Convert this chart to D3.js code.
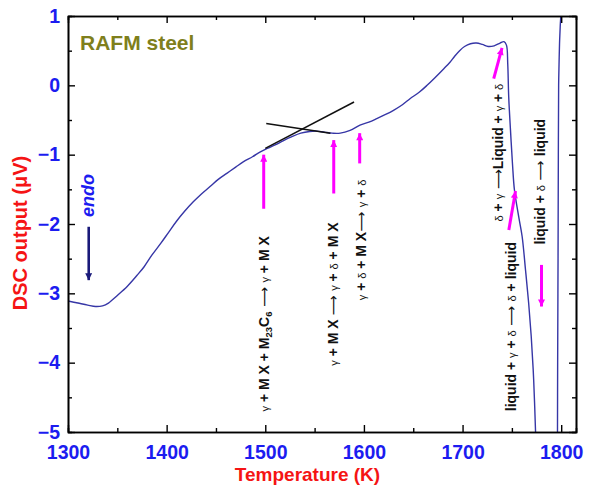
<!DOCTYPE html>
<html><head><meta charset="utf-8">
<script src="https://cdn.jsdelivr.net/npm/d3@7"></script>
<style>body{margin:0;background:#fff}svg{display:block}</style>
</head><body><svg id="c" width="592" height="487"></svg>
<script>
// ---- data ----
const curveT = [1300,1310,1320,1328,1335,1341,1350,1360,1370,1377,1385,1394,1402,1410,1418,1427,1435,1444,1452,1461,1470,1478,1487,1495,1502,1510,1518,1527,1536,1545,1552,1560,1568,1576,1586,1596,1605,1613,1622,1630,1639,1647,1656,1664,1672,1681,1687,1692,1697,1702,1708,1714,1720,1726,1732,1738,1742,1744.5,1745.8,1746.8,1748.6,1750.6,1752.6,1757,1760.4,1763.8,1767,1769.6,1771.6,1773,1774,1775];
const curveV = [-3.11,-3.14,-3.17,-3.19,-3.18,-3.14,-3.03,-2.90,-2.74,-2.62,-2.45,-2.28,-2.12,-1.96,-1.82,-1.68,-1.57,-1.46,-1.36,-1.27,-1.18,-1.10,-1.03,-0.96,-0.91,-0.86,-0.80,-0.74,-0.69,-0.665,-0.66,-0.675,-0.69,-0.69,-0.65,-0.575,-0.53,-0.48,-0.42,-0.36,-0.28,-0.19,-0.10,0.0,0.11,0.24,0.33,0.42,0.50,0.56,0.60,0.61,0.59,0.56,0.57,0.61,0.63,0.58,0.31,-0.17,-0.65,-1.13,-1.51,-1.90,-2.18,-2.66,-3.14,-3.62,-4.10,-4.58,-5.0,-5.3];
const returnT = [1796.2,1796.4,1796.8,1797.1,1797.4,1797.8,1798.3,1799.0,1799.6,1800.0];
const returnV = [-5.2,-4.0,-2.5,-1.0,0.0,0.3,0.6,0.85,1.0,1.1];
const tangentA_T = [1500,1590], tangentA_V = [-0.91,-0.24];
const tangentB_T = [1501,1566], tangentB_V = [-0.55,-0.69];
const xTickValues = [1300,1400,1500,1600,1700,1800];
const xMinorValues = [1350,1450,1550,1650,1750];
const yTickValues = [-5,-4,-3,-2,-1,0,1];
const yMinorValues = [-4.5,-3.5,-2.5,-1.5,-0.5,0.5];
// magenta arrows: [T0,V0,T1,V1] (tail -> head)
const phaseArrows = [
  [1498.4,-1.78,1498.4,-1.00],
  [1569.4,-1.56,1569.4,-0.79],
  [1595.7,-1.126,1595.7,-0.69],
  [1731.6,0.098,1740.0,0.54],
  [1746.9,-2.087,1753.7,-1.525],
  [1780.0,-2.59,1780.0,-3.19]
];
const endoArrow = [1321,-2.04,1321,-2.81];
const labels = [
  [["γ","g"],[" + M X + M","b"],["23","s"],["C","b"],["6","s"],[" ⟶ ","a"],["γ","g"],[" + M X","b"]],
  [["γ","g"],[" + M X ","b"],["⟶ ","a"],["γ","g"],[" + ","b"],["δ","g"],[" + M X","b"]],
  [["γ","g"],[" + ","b"],["δ","g"],[" + M X","b"],["⟶ ","a"],["γ","g"],[" + ","b"],["δ","g"]],
  [["δ","g"],[" + ","b"],["γ","g"],[" ⟶","a"],["Liquid + ","b"],["γ","g"],[" + ","b"],["δ","g"]],
  [["liquid + ","b"],["γ","g"],[" + ","b"],["δ","g"],[" ⟶ ","a"],["δ","g"],[" + liquid","b"]],
  [["liquid + ","b"],["δ","g"],[" ⟶ ","a"],["liquid","b"]]
];
// label anchors (data units): baseline T, centre V
const labelAnchorT = [1504.2,1574.1,1602.5,1741.5,1753.7,1783.1];
const labelAnchorV = [-3.44,-3.01,-2.23,-0.97,-3.48,-1.39];

// ---- drawing ----
const svg = d3.select("#c");
const L=68,R=576,T=16,B=432;
const x = d3.scaleLinear().domain([1300,1815]).range([L,R]);
const y = d3.scaleLinear().domain([-5,1]).range([B,T]);
const FONT = "'Liberation Sans', Arial, Helvetica, sans-serif";
const BLUE = "#1c1cf0", RED = "#f51414";

const defs = svg.append("defs");
defs.append("clipPath").attr("id","clip").append("rect")
  .attr("x",L).attr("y",T).attr("width",R-L).attr("height",B-T);
function marker(id,color,w,h){
  defs.append("marker").attr("id",id).attr("viewBox","0 0 10 10")
    .attr("refX",10).attr("refY",5).attr("markerUnits","userSpaceOnUse")
    .attr("markerWidth",w).attr("markerHeight",h).attr("orient","auto")
    .append("path").attr("d","M0,0 L10,5 L0,10 Z").attr("fill",color);
}
marker("mag","#ff00ff",9,7);
marker("navy","#1a1a7a",9,7);

// curve
const line = d3.line().x(d=>x(d[0])).y(d=>y(d[1])).curve(d3.curveCatmullRom.alpha(0.5));
const gC = svg.append("g").attr("clip-path","url(#clip)");
gC.append("path").datum(curveT.map((t,i)=>[t,curveV[i]]))
  .attr("d",line).attr("fill","none").attr("stroke","#3636a6").attr("stroke-width",1.4);
gC.append("path").datum(returnT.map((t,i)=>[t,returnV[i]]))
  .attr("d",line).attr("fill","none").attr("stroke","#3636a6").attr("stroke-width",1.4);
// tangents
[[tangentA_T,tangentA_V],[tangentB_T,tangentB_V]].forEach(([tt,vv])=>{
  svg.append("line").attr("x1",x(tt[0])).attr("y1",y(vv[0])).attr("x2",x(tt[1])).attr("y2",y(vv[1]))
    .attr("stroke","#111").attr("stroke-width",1.5);
});

// axes
function styleAxis(g){ g.selectAll("path.domain").attr("stroke","#000").attr("stroke-width",1.6);
  g.selectAll(".tick line").attr("stroke","#000").attr("stroke-width",1.4); }
const xb = svg.append("g").attr("transform",`translate(0,${B})`)
  .call(d3.axisBottom(x).tickValues(xTickValues).tickSizeInner(-7).tickSizeOuter(0).tickPadding(13).tickFormat(d3.format("d")));
xb.call(styleAxis);
svg.append("g").attr("transform",`translate(0,${B})`).call(d3.axisBottom(x).tickValues(xMinorValues).tickSize(-4).tickFormat("")).call(styleAxis);
svg.append("g").attr("transform",`translate(0,${T})`).call(d3.axisTop(x).tickValues(xTickValues).tickSizeInner(-7).tickSizeOuter(0).tickFormat("")).call(styleAxis);
svg.append("g").attr("transform",`translate(0,${T})`).call(d3.axisTop(x).tickValues(xMinorValues).tickSize(-4).tickFormat("")).call(styleAxis);
const yl = svg.append("g").attr("transform",`translate(${L},0)`)
  .call(d3.axisLeft(y).tickValues(yTickValues).tickSizeInner(-7).tickSizeOuter(0).tickPadding(8).tickFormat(d3.format("d")));
yl.call(styleAxis);
svg.append("g").attr("transform",`translate(${L},0)`).call(d3.axisLeft(y).tickValues(yMinorValues).tickSize(-4).tickFormat("")).call(styleAxis);
svg.append("g").attr("transform",`translate(${R},0)`).call(d3.axisRight(y).tickValues(yTickValues).tickSizeInner(-7).tickSizeOuter(0).tickFormat("")).call(styleAxis);
svg.append("g").attr("transform",`translate(${R},0)`).call(d3.axisRight(y).tickValues(yMinorValues).tickSize(-4).tickFormat("")).call(styleAxis);
[xb,yl].forEach(g=>g.selectAll(".tick text").attr("fill",BLUE)
  .style("font-family",FONT).style("font-weight","bold").style("font-size","19.5px"));

// axis titles
svg.append("text").attr("x",307.5).attr("y",481).attr("text-anchor","middle")
  .style("font-family",FONT).style("font-weight","bold").style("font-size","19px").attr("fill",RED)
  .text("Temperature (K)");
svg.append("text").attr("transform","translate(27,233) rotate(-90)").attr("text-anchor","middle")
  .style("font-family",FONT).style("font-weight","bold").style("font-size","20px").attr("fill",RED)
  .text("DSC output (μV)");

// title
svg.append("text").attr("x",80).attr("y",50)
  .style("font-family",FONT).style("font-weight","bold").style("font-size","21px").attr("fill","#7f7f1c")
  .text("RAFM steel");

// endo
svg.append("text").attr("transform",`translate(${x(1326.2)},${y(-1.59)}) rotate(-90)`).attr("text-anchor","middle")
  .style("font-family",FONT).style("font-weight","bold").style("font-style","italic").style("font-size","18px").attr("fill",BLUE)
  .text("endo");
svg.append("line").attr("x1",x(endoArrow[0])).attr("y1",y(endoArrow[1])).attr("x2",x(endoArrow[2])).attr("y2",y(endoArrow[3]))
  .attr("stroke","#1a1a7a").attr("stroke-width",2.6).attr("marker-end","url(#navy)");

// magenta arrows
svg.selectAll("line.ph").data(phaseArrows).join("line").attr("class","ph")
  .attr("x1",d=>x(d[0])).attr("y1",d=>y(d[1])).attr("x2",d=>x(d[2])).attr("y2",d=>y(d[3]))
  .attr("stroke","#ff00ff").attr("stroke-width",3).attr("marker-end","url(#mag)");

// phase labels
labels.forEach((segs,i)=>{
  const t = svg.append("text")
    .attr("transform",`translate(${x(labelAnchorT[i])},${y(labelAnchorV[i])}) rotate(-90)`)
    .attr("text-anchor","middle").attr("fill","#111")
    .style("font-family",FONT);
  let shifted=false;
  segs.forEach(([s,k])=>{
    const ts = t.append("tspan").text(s);
    if(k==="b"){ts.style("font-weight","bold").style("font-size","14px");}
    else if(k==="g"){ts.style("font-size","11px");}
    else if(k==="a"){ts.style("font-size","14px").style("font-family","'DejaVu Sans',sans-serif");}
    else if(k==="s"){ts.style("font-weight","bold").style("font-size","9.5px");}
    if(k==="s"&&!shifted){ts.attr("dy",3);shifted=true;}
    else if(k!=="s"&&shifted){ts.attr("dy",-3);shifted=false;}
  });
});
</script></body></html>
